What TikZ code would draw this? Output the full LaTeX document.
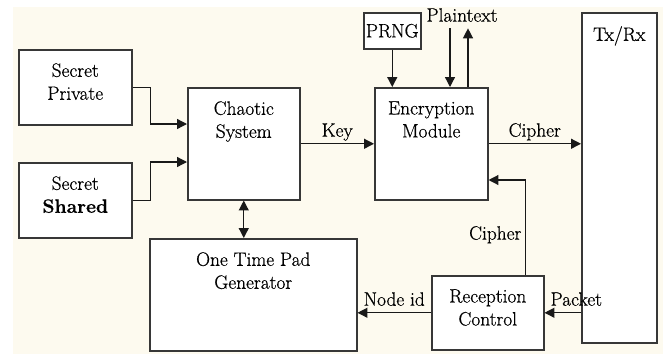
\documentclass[tikz,border=0pt]{standalone}
\usepackage{fontspec}
\setmainfont{Latin Modern Roman}[FakeBold=0.6]
\usetikzlibrary{arrows.meta,calc,positioning}
\definecolor{bgcream}{RGB}{253,250,239}
\definecolor{boxline}{RGB}{55,55,55}
\newcommand{\px}{0.03cm}

\begin{document}
\begin{tikzpicture}[x=\px,y=-\px,>={Triangle[length=8.5pt,width=8.5pt]},
  blk/.style={draw=boxline,line width=1.3pt,fill=white,anchor=north west,inner sep=0pt},
  txt/.style={align=center,inner sep=0pt,font=\rmfamily\fontsize{16.5}{19.6}\selectfont},
  lbl/.style={inner sep=3pt,text height=0.7em,text depth=0.25em,font=\rmfamily\fontsize{16.5}{19.6}\selectfont},
  conn/.style={line width=1.1pt,draw=black!90}]
  % Hintergrund
  \fill[bgcream] (13,7) rectangle (663,354);
  \useasboundingbox (0,0) rectangle (663,354);
  % Bloecke
  \node[blk,minimum width=113*\px,minimum height=75*\px] (priv) at (18,49) {};
  \node[blk,minimum width=113*\px,minimum height=75*\px] (shared) at (18,162) {};
  \node[blk,minimum width=112*\px,minimum height=112*\px] (chaos) at (187,87) {};
  \node[blk,minimum width=113*\px,minimum height=112*\px] (enc) at (374,87) {};
  \node[blk,minimum width=57*\px,minimum height=36*\px,font=\rmfamily\fontsize{16.5}{19.6}\selectfont] (prng) at (363,12) {PRNG};
  \node[blk,minimum width=75*\px,minimum height=330*\px] (txrx) at (581,12) {};
  \node[blk,minimum width=207*\px,minimum height=112*\px] (otp) at (149,238) {};
  \node[blk,minimum width=112*\px,minimum height=74*\px] (rec) at (431,275) {};
  % Beschriftung der Bloecke
  \node[txt,below=12pt of priv.north] (privt) {Secret\\Private};
  \node[txt,below=12pt of shared.north] (sharedt) {Secret\\\textbf{Shared}};
  \node[txt,below=12pt of chaos.north] (chaost) {Chaotic\\System};
  \node[txt,below=12pt of enc.north] (enct) {Encryption\\Module};
  \node[txt,below=12pt of txrx.north] (txrxt) {Tx/Rx};
  \node[txt,below=12pt of otp.north] (otpt) {One Time Pad\\Generator};
  \node[txt,below=12pt of rec.north] (rect) {Reception\\Control};
  % Verbindungen
  \draw[conn,->] (priv.east) -- ++(18,0) |- ($(chaos.north west)+(0,37)$);
  \draw[conn,->] (shared.east) -- ++(18,0) |- ($(chaos.north west)+(0,75)$);
  \draw[conn,->] (chaos.east) -- node[lbl,above] (keyl) {Key} (enc.west);
  \draw[conn,->] (enc.east) -- node[lbl,above] (cipherl) {Cipher} (enc.east -| txrx.west);
  \draw[conn,->] (prng) -- (prng.south |- enc.north);
  \node[lbl] (plain) at (462,19) {Plaintext};
  \coordinate (ptin) at (450,87);
  \coordinate (ptout) at (468,87);
  \draw[conn,->] (ptin |- plain.south) -- (ptin);
  \draw[conn,->] (ptout) -- (ptout |- plain.south);
  \draw[conn,<->] (chaos.south) -- (chaos.south |- otp.north);
  \draw[conn,->] (rec.east -| txrx.west) -- node[lbl,above,pos=0,xshift=-4pt] (packetl) {Packet} (rec.east);
  \draw[conn,->] (rec.west) -- node[lbl,above] (nodeidl) {Node id} (rec.west -| otp.east);
  \draw[conn,->] ($(rec.north east)+(-19,0)$) |- node[lbl,left,pos=0.2] (cipherr) {Cipher} ($(enc.north east)+(0,93)$);
\end{tikzpicture}
\end{document}
